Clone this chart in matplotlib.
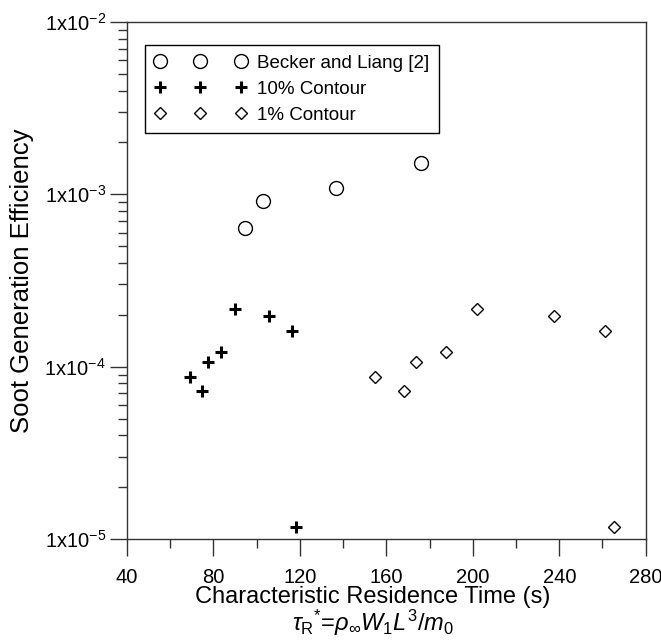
import matplotlib
matplotlib.use("Agg")
import matplotlib.pyplot as plt
from matplotlib.ticker import FixedLocator, LogLocator, NullFormatter, FixedFormatter

plt.rcParams['font.family'] = ['Liberation Sans', 'DejaVu Sans']
plt.rcParams['mathtext.fontset'] = 'custom'
plt.rcParams['mathtext.rm'] = 'Liberation Sans'
plt.rcParams['mathtext.it'] = 'Liberation Sans:italic'
plt.rcParams['mathtext.bf'] = 'Liberation Sans:bold'

# Data
becker_x = [94.6, 102.9, 136.7, 176.0]
becker_y = [6.4e-4, 9.1e-4, 1.09e-3, 1.51e-3]

c10_x = [69.2, 74.7, 77.5, 83.5, 90.0, 105.7, 116.4, 118.2]
c10_y = [8.7e-5, 7.2e-5, 1.07e-4, 1.21e-4, 2.15e-4, 1.98e-4, 1.61e-4, 1.17e-5]

c1_x = [154.8, 168.2, 173.7, 187.6, 201.8, 237.6, 261.0, 265.4]
c1_y = [8.7e-5, 7.2e-5, 1.07e-4, 1.21e-4, 2.15e-4, 1.98e-4, 1.61e-4, 1.17e-5]

labels = ["Becker and Liang [2]", "10% Contour", "1% Contour"]
x_major = [40, 80, 120, 160, 200, 240, 280]
x_minor = [60, 100, 140, 180, 220, 260]
y_major = [1e-5, 1e-4, 1e-3, 1e-2]
y_major_labels = [r'1x10$^{\mathregular{-5}}$', r'1x10$^{\mathregular{-4}}$',
                  r'1x10$^{\mathregular{-3}}$', r'1x10$^{\mathregular{-2}}$']

W, H = 661, 644
fig = plt.figure(figsize=(W/100, H/100), dpi=100)
ax = fig.add_axes([127/W, 1 - 539/H, (645.7-127)/W, (539-22)/H])

ax.plot(becker_x, becker_y, linestyle='none', marker='o', markersize=10,
        markerfacecolor='white', markeredgecolor='black', markeredgewidth=1.0, label=labels[0])
ax.plot(c10_x, c10_y, linestyle='none', marker='+', markersize=8,
        color='black', markeredgewidth=2.2, label=labels[1])
ax.plot(c1_x, c1_y, linestyle='none', marker='D', markersize=6.3,
        markerfacecolor='white', markeredgecolor='black', markeredgewidth=1.0, label=labels[2])

ax.set_yscale('log')
ax.set_xlim(40, 280)
ax.set_ylim(1e-5, 1e-2)

ax.xaxis.set_major_locator(FixedLocator(x_major))
ax.xaxis.set_minor_locator(FixedLocator(x_minor))
ax.xaxis.set_minor_formatter(NullFormatter())
ax.yaxis.set_major_locator(FixedLocator(y_major))
ax.yaxis.set_major_formatter(FixedFormatter(y_major_labels))
ax.yaxis.set_minor_locator(LogLocator(base=10, subs=range(2, 10)))
ax.yaxis.set_minor_formatter(NullFormatter())

ax.tick_params(which='major', direction='out', length=12.2, width=1.0,
               color='#333333')
ax.tick_params(which='minor', direction='out', length=6.5, width=1.0, color='#333333')
ax.tick_params(axis='y', which='major', pad=3, labelsize=14.5)
ax.tick_params(axis='x', which='major', pad=9, labelsize=14.5)
for s in ax.spines.values():
    s.set_linewidth(1.0)
    s.set_color('#333333')

leg = ax.legend(loc='upper left', bbox_to_anchor=(0.034, 0.955), numpoints=3,
                fontsize=13.5, frameon=True, fancybox=False, framealpha=1,
                edgecolor='black', handlelength=4.95, handletextpad=0.55,
                labelspacing=0.48, borderpad=0.5, borderaxespad=0)
leg.get_frame().set_linewidth(1.0)

fig.text(22/W, 1 - 281/H, "Soot Generation Efficiency", rotation=90,
         ha='center', va='center', fontsize=18.5)
fig.text(373/W, 1 - 597/H, "Characteristic Residence Time (s)",
         ha='center', va='center', fontsize=17)
fig.text(373/W, 1 - 623/H, r'$\tau_{\mathregular{R}}$$^{*}$=$\rho_{\infty}W_{1}L^{3}/m_{0}$',
         ha='center', va='center', fontsize=17)

fig.savefig("out.png", dpi=100)
